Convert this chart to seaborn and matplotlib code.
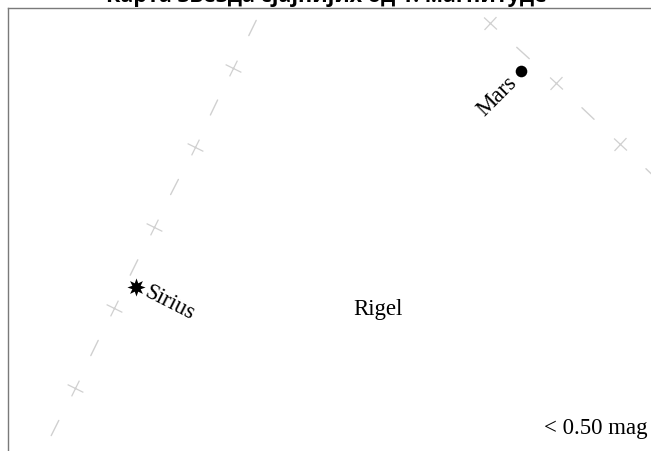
import numpy as np
import pandas as pd
import seaborn as sns
import matplotlib.pyplot as plt
from matplotlib.markers import MarkerStyle
from matplotlib.transforms import Affine2D

# ---- data (map coordinates, y grows downward) ----
title_text = "Карта звезда сјајнијих од 1. магнитуде"
legend_text = "< 0.50 mag"

# ecliptic-like path 1 (through Sirius region): tick points
path1_x = [264, 225, 187, 146, 106, 67, 27]
path1_y = [-20, 60, 139, 219, 300, 380, 460]
# path 2 (near Mars)
path2_x = [416, 482, 548, 612, 676]
path2_y = [-45, 15, 75, 136, 197]

star_names = ["Sirius", "Mars", "Rigel"]
star_x = [128, 513, 370]
star_y = [279, 63, 302]

sns.set_theme(style="white")
plt.rcParams["font.family"] = ["Liberation Serif", "DejaVu Serif"]

fig = plt.figure(figsize=(6.51, 4.51), dpi=100)
ax = fig.add_axes([8 / 651, 0, 643 / 651, 443 / 451])

GRAY = "#d0d0d0"


def dash_frame(xs, ys, lo=0.405, hi=0.595):
    rows = []
    for i in range(len(xs) - 1):
        for f in (lo, hi):
            rows.append({"seg": i,
                         "x": xs[i] + f * (xs[i + 1] - xs[i]),
                         "y": ys[i] + f * (ys[i + 1] - ys[i])})
    return pd.DataFrame(rows)


for px, py in ((path1_x, path1_y), (path2_x, path2_y)):
    df = dash_frame(px, py)
    sns.lineplot(data=df, x="x", y="y", units="seg", estimator=None, sort=False,
                 color=GRAY, linewidth=1.0, ax=ax, legend=False)
    ang = np.degrees(np.arctan2(-np.diff(py), np.diff(px))).mean()
    ms = MarkerStyle("+", transform=Affine2D().rotate_deg(ang))
    sns.scatterplot(x=px, y=py, marker=ms, s=160, color=GRAY, linewidth=0.9,
                    ax=ax, legend=False)

# Sirius (8-point star)
sns.scatterplot(x=[star_x[0]], y=[star_y[0]], marker=MarkerStyle((8, 1, 0)), s=170,
                color="black", edgecolor="black", linewidth=0, ax=ax, legend=False)
# Mars (dot)
sns.scatterplot(x=[star_x[1]], y=[star_y[1]], marker="o", s=70,
                color="black", edgecolor="black", linewidth=0, ax=ax, legend=False)

FS = 16.5
ax.annotate(star_names[0], (star_x[0], star_y[0]), xytext=(7, -3),
            textcoords="offset points", ha="left", va="center",
            rotation=-27, rotation_mode="anchor", fontsize=FS, color="black")
ax.annotate(star_names[1], (star_x[1], star_y[1]), xytext=(-5, -6),
            textcoords="offset points", ha="right", va="center",
            rotation=45, rotation_mode="anchor", fontsize=FS, color="black")
ax.text(star_x[2], star_y[2], star_names[2], ha="center", va="center",
        fontsize=FS, color="black")

ax.set_xlim(0, 643)
ax.set_ylim(443, 0)
ax.set_xticks([])
ax.set_yticks([])
ax.set_xlabel("")
ax.set_ylabel("")
for side in ("right", "bottom"):
    ax.spines[side].set_visible(False)
for side in ("left", "top"):
    ax.spines[side].set_color("#7a7a7a")
    ax.spines[side].set_linewidth(1.0)

fig.text(648 / 651, 1 - 434 / 451, legend_text, ha="right", va="baseline",
         fontsize=FS, color="black")
fig.text(326 / 651, 1 - 7 / 451, title_text, ha="center", va="bottom",
         fontsize=15.5, fontweight="bold", family=["Open Sans", "DejaVu Sans"],
         color="black")

fig.savefig("out.png", dpi=100)
